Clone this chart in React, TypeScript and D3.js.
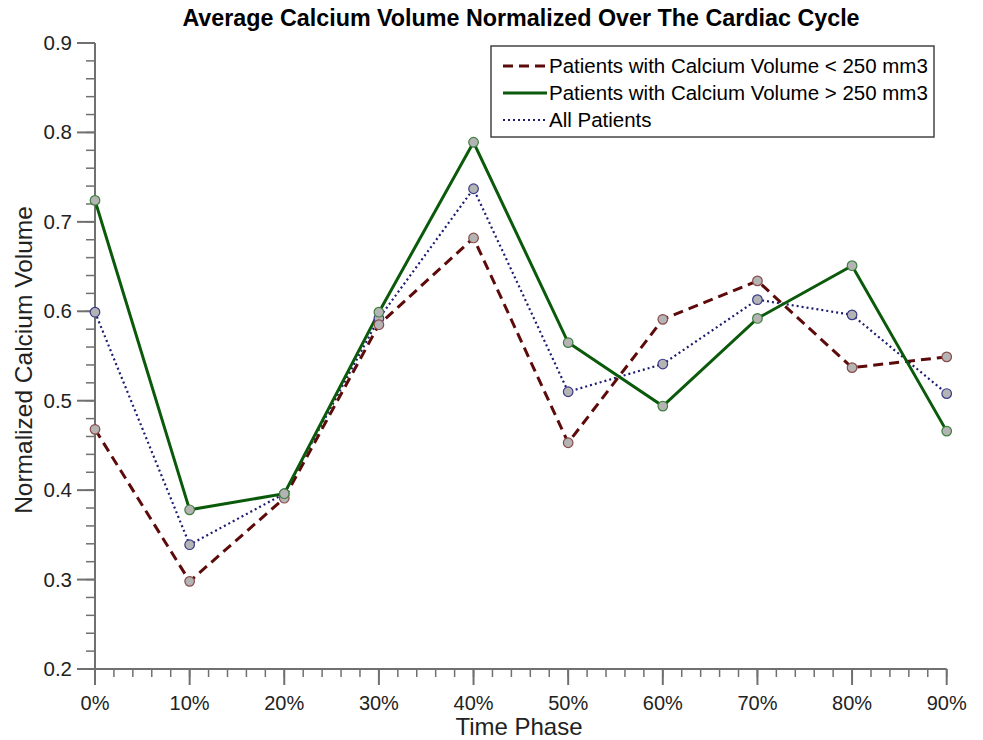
import React from "react";
import * as d3 from "d3";

const phases = [0, 10, 20, 30, 40, 50, 60, 70, 80, 90];
const lowVolume = [0.468, 0.298, 0.391, 0.585, 0.682, 0.453, 0.591, 0.634, 0.537, 0.549];
const highVolume = [0.724, 0.378, 0.396, 0.599, 0.789, 0.565, 0.494, 0.592, 0.651, 0.466];
const allPatients = [0.599, 0.339, 0.396, 0.592, 0.737, 0.510, 0.541, 0.613, 0.596, 0.508];
const yTicks = [0.2, 0.3, 0.4, 0.5, 0.6, 0.7, 0.8, 0.9];
const seriesNames = [
  "Patients with Calcium Volume < 250 mm3",
  "Patients with Calcium Volume > 250 mm3",
  "All Patients",
];

const FONT = "'Liberation Sans', Arial, sans-serif";

export default function App() {
  const W = 983, H = 740;
  const x0 = 95, x1 = 946.7, yTop = 43, yBot = 669;
  const x = d3.scaleLinear().domain([0, 90]).range([x0, x1]);
  const y = d3.scaleLinear().domain([0.2, 0.9]).range([yBot, yTop]);
  const axisColor = "#707070";

  const series = [
    { name: seriesNames[0], values: lowVolume, color: "#5c0a0a", width: 3, dash: "10,6", mstroke: "#8a4a4a" },
    { name: seriesNames[1], values: highVolume, color: "#0b5a0b", width: 3, dash: null, mstroke: "#3f7f3f" },
    { name: seriesNames[2], values: allPatients, color: "#1c1c70", width: 2.2, dash: "2,3", mstroke: "#3a3a8a" },
  ];

  const line = d3.line<number>().x((_, i) => x(phases[i])).y((v) => y(v));

  const yMinor = d3.range(0.2, 0.9001, 0.02);
  const xMinor = d3.range(0, 90.001, 2);

  const drawOrder = [2, 0, 1];

  return (
    <svg width={W} height={H} style={{ position: "absolute", left: 0, top: 0, background: "#fff" }}>
      <rect x={0} y={0} width={W} height={H} fill="#fff" />
      <text x={521} y={26} textAnchor="middle" fontFamily={FONT} fontWeight="bold" fontSize={23.3} fill="#000">
        Average Calcium Volume Normalized Over The Cardiac Cycle
      </text>

      {/* Y axis */}
      <line x1={x0} x2={x0} y1={yTop} y2={yBot} stroke={axisColor} strokeWidth={2} />
      {yMinor.map((v, i) => (
        <line key={"ym" + i} x1={x0 - 9} x2={x0} y1={y(v)} y2={y(v)} stroke={axisColor} strokeWidth={1.5} />
      ))}
      {yTicks.map((v) => (
        <g key={"yt" + v}>
          <line x1={x0 - 18} x2={x0} y1={y(v)} y2={y(v)} stroke={axisColor} strokeWidth={2} />
          <text x={72} y={y(v) + 7} textAnchor="end" fontFamily={FONT} fontSize={20.5} fill="#222">
            {v.toFixed(1)}
          </text>
        </g>
      ))}

      {/* X axis */}
      <line x1={x0} x2={x1} y1={yBot} y2={yBot} stroke={axisColor} strokeWidth={2} />
      {xMinor.map((v, i) => (
        <line key={"xm" + i} x1={x(v)} x2={x(v)} y1={yBot} y2={yBot + 8} stroke={axisColor} strokeWidth={1.5} />
      ))}
      {phases.map((p) => (
        <g key={"xt" + p}>
          <line x1={x(p)} x2={x(p)} y1={yBot} y2={yBot + 16} stroke={axisColor} strokeWidth={2} />
          <text x={x(p)} y={710} textAnchor="middle" fontFamily={FONT} fontSize={20} fill="#222">
            {p + "%"}
          </text>
        </g>
      ))}

      <text x={519} y={735} textAnchor="middle" fontFamily={FONT} fontSize={24} fill="#222">
        Time Phase
      </text>
      <text
        transform={`translate(32,360) rotate(-90)`}
        textAnchor="middle"
        fontFamily={FONT}
        fontSize={24.5}
        fill="#222"
      >
        Normalized Calcium Volume
      </text>

      {/* Lines */}
      {drawOrder.map((si) => {
        const s = series[si];
        return (
          <path
            key={"l" + si}
            d={line(s.values) || ""}
            fill="none"
            stroke={s.color}
            strokeWidth={s.width}
            strokeDasharray={s.dash || undefined}
          />
        );
      })}
      {drawOrder.map((si) => {
        const s = series[si];
        return (
          <g key={"m" + si}>
            {s.values.map((v, i) => (
              <circle key={i} cx={x(phases[i])} cy={y(v)} r={4.8} fill="#b4b4b4" stroke={s.mstroke} strokeWidth={1.2} />
            ))}
          </g>
        );
      })}

      {/* Legend */}
      <rect x={491} y={46} width={443} height={91} fill="#fff" stroke="#444" strokeWidth={1.5} />
      {series.map((s, i) => {
        const ly = 66 + i * 27;
        return (
          <g key={"lg" + i}>
            <line
              x1={503}
              x2={547}
              y1={ly}
              y2={ly}
              stroke={s.color}
              strokeWidth={s.width}
              strokeDasharray={s.dash || undefined}
            />
            <text x={549} y={ly + 7} fontFamily={FONT} fontSize={20.5} fill="#000">
              {s.name}
            </text>
          </g>
        );
      })}
    </svg>
  );
}
